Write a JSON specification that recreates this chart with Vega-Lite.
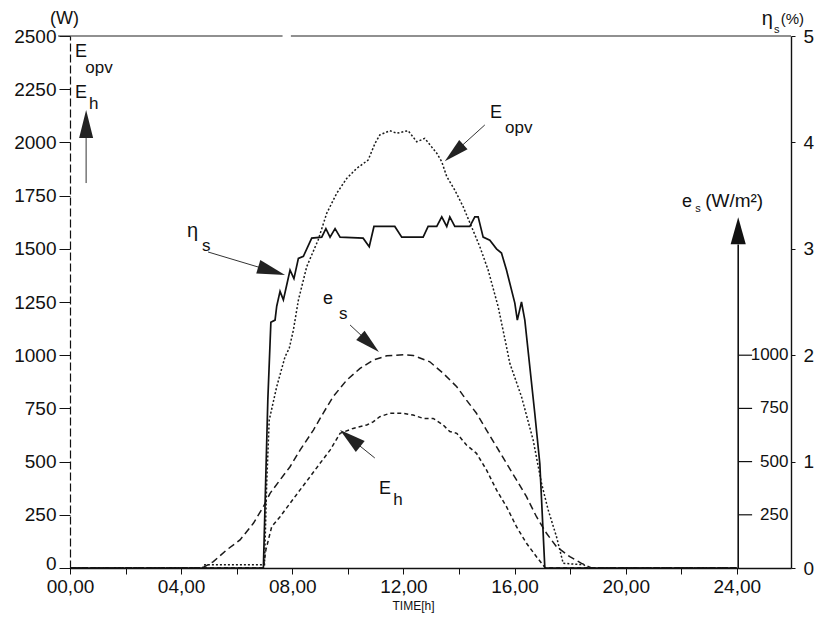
{
  "$schema": "https://vega.github.io/schema/vega-lite/v6.json",
  "width": 721,
  "height": 532,
  "autosize": {"type": "none"},
  "padding": {"left": 70, "top": 36, "right": 24, "bottom": 51},
  "background": "white",
  "config": {
    "view": {"stroke": null},
    "font": "Liberation Sans",
    "text": {"font": "Liberation Sans", "color": "#111"},
    "axis": {"labelFont": "Liberation Sans", "titleFont": "Liberation Sans", "labelColor": "#111", "titleColor": "#111", "domainColor": "#111", "tickColor": "#111", "grid": false, "labelOverlap": false, "labelFlush": false}
  },
  "datasets": {
    "curves": [
      {"t": 0, "v": 0, "s": "E_opv"}, {"t": 4.8, "v": 0, "s": "E_opv"}, {"t": 4.85, "v": 15, "s": "E_opv"}, {"t": 7.0, "v": 15, "s": "E_opv"}, {"t": 7.08, "v": 400, "s": "E_opv"}, {"t": 7.17, "v": 695, "s": "E_opv"}, {"t": 7.44, "v": 852, "s": "E_opv"}, {"t": 7.74, "v": 993, "s": "E_opv"}, {"t": 7.89, "v": 1032, "s": "E_opv"}, {"t": 8.04, "v": 1118, "s": "E_opv"}, {"t": 8.22, "v": 1259, "s": "E_opv"}, {"t": 8.52, "v": 1416, "s": "E_opv"}, {"t": 8.93, "v": 1541, "s": "E_opv"}, {"t": 9.24, "v": 1667, "s": "E_opv"}, {"t": 9.6, "v": 1761, "s": "E_opv"}, {"t": 9.96, "v": 1831, "s": "E_opv"}, {"t": 10.32, "v": 1878, "s": "E_opv"}, {"t": 10.73, "v": 1917, "s": "E_opv"}, {"t": 10.98, "v": 1996, "s": "E_opv"}, {"t": 11.15, "v": 2035, "s": "E_opv"}, {"t": 11.51, "v": 2055, "s": "E_opv"}, {"t": 11.76, "v": 2043, "s": "E_opv"}, {"t": 12.17, "v": 2055, "s": "E_opv"}, {"t": 12.48, "v": 2003, "s": "E_opv"}, {"t": 12.77, "v": 2019, "s": "E_opv"}, {"t": 13.2, "v": 1949, "s": "E_opv"}, {"t": 13.38, "v": 1909, "s": "E_opv"}, {"t": 13.56, "v": 1839, "s": "E_opv"}, {"t": 13.85, "v": 1776, "s": "E_opv"}, {"t": 14.15, "v": 1698, "s": "E_opv"}, {"t": 14.45, "v": 1604, "s": "E_opv"}, {"t": 14.75, "v": 1510, "s": "E_opv"}, {"t": 15.05, "v": 1400, "s": "E_opv"}, {"t": 15.41, "v": 1228, "s": "E_opv"}, {"t": 15.71, "v": 1040, "s": "E_opv"}, {"t": 15.83, "v": 962, "s": "E_opv"}, {"t": 16.25, "v": 805, "s": "E_opv"}, {"t": 16.67, "v": 601, "s": "E_opv"}, {"t": 16.97, "v": 398, "s": "E_opv"}, {"t": 17.21, "v": 273, "s": "E_opv"}, {"t": 17.51, "v": 147, "s": "E_opv"}, {"t": 17.75, "v": 22, "s": "E_opv"}, {"t": 18.5, "v": 15, "s": "E_opv"}, {"t": 18.6, "v": 0, "s": "E_opv"}, {"t": 24, "v": 0, "s": "E_opv"},
      {"t": 0, "v": 0, "s": "e_s"}, {"t": 4.56, "v": 0, "s": "e_s"}, {"t": 4.8, "v": 3, "s": "e_s"}, {"t": 5.16, "v": 30, "s": "e_s"}, {"t": 5.64, "v": 85, "s": "e_s"}, {"t": 6.12, "v": 132, "s": "e_s"}, {"t": 6.6, "v": 210, "s": "e_s"}, {"t": 6.96, "v": 288, "s": "e_s"}, {"t": 7.2, "v": 351, "s": "e_s"}, {"t": 7.56, "v": 414, "s": "e_s"}, {"t": 7.92, "v": 476, "s": "e_s"}, {"t": 8.28, "v": 554, "s": "e_s"}, {"t": 8.76, "v": 648, "s": "e_s"}, {"t": 9.11, "v": 727, "s": "e_s"}, {"t": 9.47, "v": 805, "s": "e_s"}, {"t": 9.96, "v": 883, "s": "e_s"}, {"t": 10.44, "v": 938, "s": "e_s"}, {"t": 10.91, "v": 977, "s": "e_s"}, {"t": 11.4, "v": 997, "s": "e_s"}, {"t": 12.0, "v": 1002, "s": "e_s"}, {"t": 12.35, "v": 999, "s": "e_s"}, {"t": 12.95, "v": 969, "s": "e_s"}, {"t": 13.43, "v": 915, "s": "e_s"}, {"t": 13.92, "v": 852, "s": "e_s"}, {"t": 14.27, "v": 789, "s": "e_s"}, {"t": 14.63, "v": 727, "s": "e_s"}, {"t": 14.99, "v": 648, "s": "e_s"}, {"t": 15.35, "v": 570, "s": "e_s"}, {"t": 15.71, "v": 492, "s": "e_s"}, {"t": 16.07, "v": 414, "s": "e_s"}, {"t": 16.43, "v": 335, "s": "e_s"}, {"t": 16.79, "v": 241, "s": "e_s"}, {"t": 17.15, "v": 163, "s": "e_s"}, {"t": 17.51, "v": 100, "s": "e_s"}, {"t": 17.99, "v": 53, "s": "e_s"}, {"t": 18.41, "v": 22, "s": "e_s"}, {"t": 18.77, "v": 0, "s": "e_s"}, {"t": 24, "v": 0, "s": "e_s"},
      {"t": 0, "v": 0, "s": "E_h"}, {"t": 6.96, "v": 0, "s": "E_h"}, {"t": 7.05, "v": 85, "s": "E_h"}, {"t": 7.26, "v": 194, "s": "E_h"}, {"t": 7.56, "v": 241, "s": "E_h"}, {"t": 7.92, "v": 304, "s": "E_h"}, {"t": 8.28, "v": 367, "s": "E_h"}, {"t": 8.64, "v": 429, "s": "E_h"}, {"t": 9.0, "v": 492, "s": "E_h"}, {"t": 9.36, "v": 554, "s": "E_h"}, {"t": 9.72, "v": 633, "s": "E_h"}, {"t": 10.19, "v": 656, "s": "E_h"}, {"t": 10.68, "v": 672, "s": "E_h"}, {"t": 10.91, "v": 687, "s": "E_h"}, {"t": 11.15, "v": 711, "s": "E_h"}, {"t": 11.51, "v": 727, "s": "E_h"}, {"t": 11.99, "v": 727, "s": "E_h"}, {"t": 12.35, "v": 719, "s": "E_h"}, {"t": 12.71, "v": 703, "s": "E_h"}, {"t": 13.07, "v": 703, "s": "E_h"}, {"t": 13.43, "v": 672, "s": "E_h"}, {"t": 13.67, "v": 641, "s": "E_h"}, {"t": 13.92, "v": 633, "s": "E_h"}, {"t": 14.27, "v": 578, "s": "E_h"}, {"t": 14.63, "v": 539, "s": "E_h"}, {"t": 14.99, "v": 461, "s": "E_h"}, {"t": 15.35, "v": 367, "s": "E_h"}, {"t": 15.71, "v": 288, "s": "E_h"}, {"t": 16.07, "v": 194, "s": "E_h"}, {"t": 16.43, "v": 116, "s": "E_h"}, {"t": 16.79, "v": 53, "s": "E_h"}, {"t": 17.09, "v": 3, "s": "E_h"}, {"t": 17.15, "v": 0, "s": "E_h"}, {"t": 24, "v": 0, "s": "E_h"}
    ],
    "eta": [
      {"t": 0, "p": 0}, {"t": 6.96, "p": 0}, {"t": 7.12, "p": 1.58}, {"t": 7.23, "p": 2.31}, {"t": 7.38, "p": 2.33}, {"t": 7.44, "p": 2.46}, {"t": 7.56, "p": 2.6}, {"t": 7.68, "p": 2.52}, {"t": 7.8, "p": 2.66}, {"t": 7.92, "p": 2.8}, {"t": 8.06, "p": 2.72}, {"t": 8.22, "p": 2.91}, {"t": 8.4, "p": 2.93}, {"t": 8.7, "p": 3.1}, {"t": 9.06, "p": 3.11}, {"t": 9.21, "p": 3.19}, {"t": 9.36, "p": 3.11}, {"t": 9.54, "p": 3.19}, {"t": 9.72, "p": 3.11}, {"t": 10.55, "p": 3.1}, {"t": 10.77, "p": 3.02}, {"t": 10.94, "p": 3.21}, {"t": 11.69, "p": 3.21}, {"t": 11.94, "p": 3.11}, {"t": 12.71, "p": 3.11}, {"t": 12.89, "p": 3.21}, {"t": 13.2, "p": 3.21}, {"t": 13.38, "p": 3.3}, {"t": 13.56, "p": 3.21}, {"t": 13.67, "p": 3.3}, {"t": 13.85, "p": 3.21}, {"t": 14.39, "p": 3.21}, {"t": 14.57, "p": 3.3}, {"t": 14.69, "p": 3.3}, {"t": 14.87, "p": 3.11}, {"t": 15.11, "p": 3.08}, {"t": 15.35, "p": 3.0}, {"t": 15.53, "p": 2.96}, {"t": 15.71, "p": 2.8}, {"t": 16.01, "p": 2.49}, {"t": 16.1, "p": 2.33}, {"t": 16.25, "p": 2.5}, {"t": 16.37, "p": 2.33}, {"t": 16.73, "p": 1.45}, {"t": 16.91, "p": 0.98}, {"t": 17.09, "p": 0}, {"t": 24, "p": 0}
    ]
  },
  "encoding": {
    "x": {"field": "t", "type": "quantitative", "scale": {"domain": [0, 25.95], "nice": false},
      "axis": {"values": [0, 2, 4, 6, 8, 10, 12, 14, 16, 18, 20, 22, 24], "labelExpr": "datum.value % 4 == 0 ? (datum.value < 10 ? '0' : '') + datum.value + ',00' : ''", "tickSize": 6, "labelPadding": 3, "labelFontSize": 19, "domainWidth": 1.6, "title": "TIME[h]", "titleFontSize": 12, "titleFontWeight": "normal", "titleX": 343, "titleY": 37, "titleAlign": "center", "titleBaseline": "middle"}}
  },
  "layer": [
    {
      "encoding": {
        "y": {"field": "v", "type": "quantitative", "scale": {"domain": [0, 2500], "nice": false},
          "axis": {"values": [0, 250, 500, 750, 1000, 1250, 1500, 1750, 2000, 2250, 2500], "format": "d", "tickSize": 11, "labelPadding": 3, "labelFontSize": 19, "labelOffset": {"condition": {"test": "datum.value == 0", "value": -5}, "value": 0}, "domainDash": [8, 3], "domainWidth": 1.2, "title": null}}
      },
      "layer": [
        {
          "data": {"name": "curves"},
          "mark": {"type": "line", "color": "#1a1a1a", "strokeWidth": 1.5},
          "encoding": {
            "strokeDash": {"field": "s", "type": "nominal", "scale": {"domain": ["E_opv", "e_s", "E_h"], "range": [[2, 2], [7, 4], [4, 3]]}, "legend": null}
          }
        },
        {
          "data": {"values": [{"t": -0.43, "t2": 7.65, "v": 2500}, {"t": 7.95, "t2": 25.95, "v": 2500}]},
          "mark": {"type": "rule", "color": "#222", "strokeWidth": 1.2},
          "encoding": {"x2": {"field": "t2"}}
        },
        {
          "data": {"values": [{"t": 24.05, "v": 0, "v2": 1520}]},
          "mark": {"type": "rule", "color": "#111", "strokeWidth": 1.6},
          "encoding": {"y2": {"field": "v2"}}
        },
        {
          "data": {"values": [{"t": 24.05, "t2": 24.55, "v": 250}, {"t": 24.05, "t2": 24.55, "v": 500}, {"t": 24.05, "t2": 24.55, "v": 750}, {"t": 24.05, "t2": 24.55, "v": 1000}]},
          "mark": {"type": "rule", "color": "#111", "strokeWidth": 1.2},
          "encoding": {"x2": {"field": "t2"}}
        },
        {
          "data": {"values": [{"t": 25.86, "v": 250, "text": "250"}, {"t": 25.86, "v": 500, "text": "500"}, {"t": 25.86, "v": 750, "text": "750"}, {"t": 25.86, "v": 1000, "text": "1000"}]},
          "mark": {"type": "text", "align": "right", "baseline": "middle", "fontSize": 17},
          "encoding": {"text": {"field": "text"}}
        },
        {
          "data": {"values": [
            {"t": 0.58, "v": 1809, "t2": 0.58, "v2": 2030},
            {"t": 4.97, "v": 1485, "t2": 7.6, "v2": 1382},
            {"t": 14.93, "v": 2082, "t2": 13.6, "v2": 1925},
            {"t": 10.08, "v": 1142, "t2": 11.0, "v2": 1030},
            {"t": 10.97, "v": 517, "t2": 9.8, "v2": 640}
          ]},
          "mark": {"type": "rule", "color": "#333", "strokeWidth": 1},
          "encoding": {"x2": {"field": "t2"}, "y2": {"field": "v2"}}
        },
        {"data": {"values": [{"t": 0.58, "v": 2152}]}, "mark": {"type": "point", "shape": "M0,0L0.25,1L-0.25,1Z", "size": 3136, "filled": true, "color": "#222", "opacity": 1, "angle": 0}},
        {"data": {"values": [{"t": 7.74, "v": 1377}]}, "mark": {"type": "point", "shape": "M0,0L0.25,1L-0.25,1Z", "size": 3136, "filled": true, "color": "#222", "opacity": 1, "angle": 107}},
        {"data": {"values": [{"t": 13.49, "v": 1911}]}, "mark": {"type": "point", "shape": "M0,0L0.25,1L-0.25,1Z", "size": 2500, "filled": true, "color": "#222", "opacity": 1, "angle": 228}},
        {"data": {"values": [{"t": 11.12, "v": 1015}]}, "mark": {"type": "point", "shape": "M0,0L0.25,1L-0.25,1Z", "size": 2500, "filled": true, "color": "#222", "opacity": 1, "angle": 132}},
        {"data": {"values": [{"t": 9.72, "v": 648}]}, "mark": {"type": "point", "shape": "M0,0L0.27,1L-0.27,1Z", "size": 2704, "filled": true, "color": "#222", "opacity": 1, "angle": 309}},
        {"data": {"values": [{"t": 24.05, "v": 1648}]}, "mark": {"type": "point", "shape": "M0,0L0.28,1L-0.28,1Z", "size": 2916, "filled": true, "color": "#111", "opacity": 1, "angle": 0}},
        {
          "data": {"values": [
            {"t": 0.18, "v": 2425, "text": "E"},
            {"t": 0.18, "v": 2232, "text": "E"},
            {"t": 15.12, "v": 2138, "text": "E"},
            {"t": 9.11, "v": 1264, "text": "e"},
            {"t": 11.12, "v": 371, "text": "E"},
            {"t": 22.03, "v": 1720, "text": "e"},
            {"t": -0.72, "v": 2580, "text": "(W)"}
          ]},
          "mark": {"type": "text", "align": "left", "baseline": "middle", "fontSize": 18},
          "encoding": {"text": {"field": "text"}}
        },
        {
          "data": {"values": [
            {"t": 0.55, "v": 2350, "text": "opv"},
            {"t": 0.68, "v": 2180, "text": "h"},
            {"t": 15.66, "v": 2068, "text": "opv"},
            {"t": 9.68, "v": 1194, "text": "s"},
            {"t": 11.63, "v": 320, "text": "h"},
            {"t": 4.75, "v": 1513, "text": "s"}
          ]},
          "mark": {"type": "text", "align": "left", "baseline": "middle", "fontSize": 17},
          "encoding": {"text": {"field": "text"}}
        },
        {
          "data": {"values": [
            {"t": 25.34, "v": 2530, "text": "s"},
            {"t": 22.5, "v": 1687, "text": "s"}
          ]},
          "mark": {"type": "text", "align": "left", "baseline": "middle", "fontSize": 11},
          "encoding": {"text": {"field": "text"}}
        },
        {
          "data": {"values": [
            {"t": 4.21, "v": 1584, "text": "η"},
            {"t": 24.9, "v": 2578, "text": "η"}
          ]},
          "mark": {"type": "text", "align": "left", "baseline": "middle", "fontSize": 20},
          "encoding": {"text": {"field": "text"}}
        },
        {
          "data": {"values": [{"t": 25.58, "v": 2582, "text": "(%)"}]},
          "mark": {"type": "text", "align": "left", "baseline": "middle", "fontSize": 15},
          "encoding": {"text": {"field": "text"}}
        },
        {
          "data": {"values": [{"t": 22.86, "v": 1725, "text": "(W/m²)"}]},
          "mark": {"type": "text", "align": "left", "baseline": "middle", "fontSize": 19},
          "encoding": {"text": {"field": "text"}}
        }
      ]
    },
    {
      "data": {"name": "eta"},
      "mark": {"type": "line", "color": "#111", "strokeWidth": 1.7},
      "encoding": {
        "y": {"field": "p", "type": "quantitative", "scale": {"domain": [0, 5], "nice": false},
          "axis": {"orient": "right", "values": [0, 1, 2, 3, 4, 5], "tickSize": 4, "labelPadding": 8, "labelFontSize": 19, "domainWidth": 1.4, "title": null}}
      }
    }
  ],
  "resolve": {"scale": {"y": "independent"}}
}
